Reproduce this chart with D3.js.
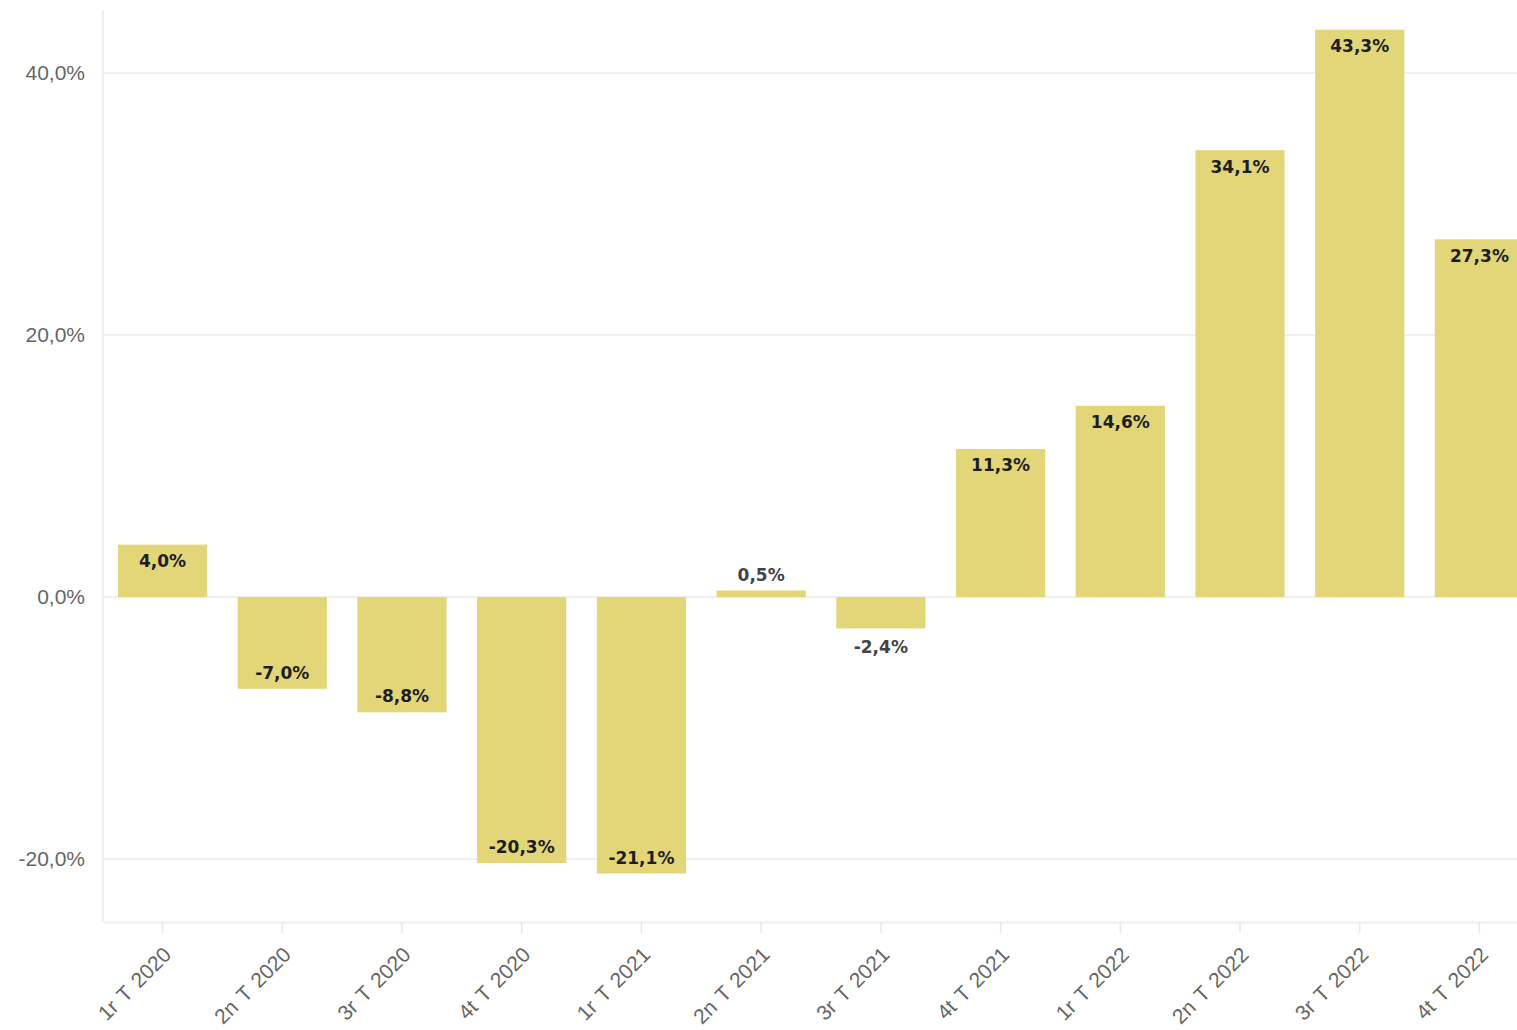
<!DOCTYPE html>
<html>
<head>
<meta charset="utf-8">
<script src="https://cdn.jsdelivr.net/npm/d3@7"></script>
<style>
  html, body { margin: 0; padding: 0; background: #fff; overflow: hidden; }
  svg { display: block; font-family: "Liberation Sans", Arial, sans-serif; }
</style>
</head>
<body>
<svg id="chart" width="1517" height="1030"></svg>
<script>
// Quarterly year-on-year change (%)
const quarters = ["1r T 2020", "2n T 2020", "3r T 2020", "4t T 2020",
                  "1r T 2021", "2n T 2021", "3r T 2021", "4t T 2021",
                  "1r T 2022", "2n T 2022", "3r T 2022", "4t T 2022"];
const changes = [4.0, -7.0, -8.8, -20.3, -21.1, 0.5, -2.4, 11.3, 14.6, 34.1, 43.3, 27.3];
const yTicks = [-20, 0, 20, 40];

const data = quarters.map((q, i) => ({ q, v: changes[i] }));

const svg = d3.select("#chart");
const plotLeft = 103, plotRight = 1539, plotTop = 10, plotBottom = 922;

const x = d3.scaleBand()
  .domain(quarters)
  .range([plotLeft, plotRight])
  .paddingInner(0.255)
  .paddingOuter(0.125);

const y = d3.scaleLinear()
  .domain([-24.8, 44.8])
  .range([plotBottom, plotTop]);

// Catalan-style number: decimal comma, plain hyphen for negatives
const fmt = v => (v < 0 ? "-" : "") + d3.format(".1f")(Math.abs(v)).replace(".", ",") + "%";

// Horizontal gridlines
svg.append("g")
  .selectAll("line")
  .data(yTicks)
  .join("line")
  .attr("x1", plotLeft).attr("x2", 1517)
  .attr("y1", d => y(d)).attr("y2", d => y(d))
  .attr("stroke", "#efefef")
  .attr("stroke-width", 2);

// Left frame line
svg.append("line")
  .attr("x1", plotLeft).attr("x2", plotLeft)
  .attr("y1", plotTop).attr("y2", plotBottom)
  .attr("stroke", "#f0f0f0").attr("stroke-width", 2);

// Y axis
const yAxis = svg.append("g")
  .attr("transform", `translate(${plotLeft},0)`)
  .call(d3.axisLeft(y).tickValues(yTicks).tickFormat(fmt).tickSize(0).tickPadding(18));
yAxis.select(".domain").remove();
yAxis.selectAll("text")
  .attr("fill", "#666")
  .style("font-size", "21px");

// X axis
const xAxis = svg.append("g")
  .attr("transform", `translate(0,${plotBottom})`)
  .call(d3.axisBottom(x).tickSize(11).tickSizeOuter(0).tickPadding(4));
xAxis.select(".domain").attr("stroke", "#efefef").attr("stroke-width", 2);
xAxis.selectAll(".tick line").attr("stroke", "#e8e8e8").attr("stroke-width", 1.5);
xAxis.selectAll("text")
  .attr("fill", "#666")
  .style("font-size", "21px")
  .style("word-spacing", "2px")
  .attr("text-anchor", "end")
  .attr("x", 0).attr("y", 0).attr("dx", 0).attr("dy", 0)
  .attr("transform", "translate(10,34) rotate(-45)");

// Bars
svg.append("g")
  .selectAll("rect")
  .data(data)
  .join("rect")
  .attr("x", d => x(d.q))
  .attr("width", x.bandwidth())
  .attr("y", d => y(Math.max(0, d.v)))
  .attr("height", d => Math.abs(y(d.v) - y(0)))
  .attr("fill", "#e2d679");

// Value labels: inside the bar end when the bar is tall enough, outside otherwise
const inside = d => Math.abs(y(d.v) - y(0)) > 40;
svg.append("g")
  .selectAll("text")
  .data(data)
  .join("text")
  .attr("x", d => x(d.q) + x.bandwidth() / 2)
  .attr("y", d => {
    const end = y(d.v);
    if (d.v >= 0) return inside(d) ? end + 22.5 : end - 9;
    return inside(d) ? end - 10 : end + 25;
  })
  .attr("text-anchor", "middle")
  .attr("fill", d => inside(d) ? "#1e1e1e" : "#444")
  .style("font-family", "'DejaVu Sans', sans-serif")
  .style("font-size", "17px")
  .style("font-weight", "bold")
  .text(d => fmt(d.v));
</script>
</body>
</html>
